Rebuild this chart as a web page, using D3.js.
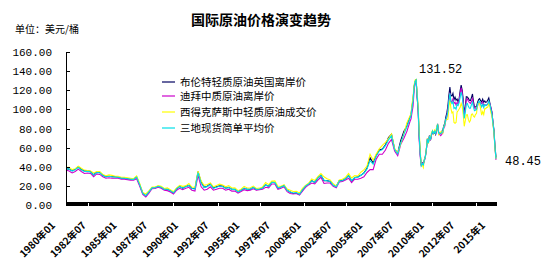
<!DOCTYPE html>
<html>
<head>
<meta charset="utf-8">
<script src="https://d3js.org/d3.v7.min.js"></script>
<style>
  body { margin: 0; background: #fff; }
  svg { display: block; }
  text { font-family: "Noto Sans CJK SC", "DejaVu Sans", sans-serif; }
</style>
</head>
<body>
<div id="chart"></div>
<script>
// quarterly up to 2007, monthly from 2008 on
var dates = [
  "1980-01","1980-04","1980-07","1980-10","1981-01","1981-04","1981-07","1981-10",
  "1982-01","1982-04","1982-07","1982-10","1983-01","1983-04","1983-07","1983-10",
  "1984-01","1984-04","1984-07","1984-10","1985-01","1985-04","1985-07","1985-10",
  "1986-01","1986-04","1986-07","1986-10","1987-01","1987-04","1987-07","1987-10",
  "1988-01","1988-04","1988-07","1988-10","1989-01","1989-04","1989-07","1989-10",
  "1990-01","1990-04","1990-07","1990-10","1991-01","1991-04","1991-07","1991-10",
  "1992-01","1992-04","1992-07","1992-10","1993-01","1993-04","1993-07","1993-10",
  "1994-01","1994-04","1994-07","1994-10","1995-01","1995-04","1995-07","1995-10",
  "1996-01","1996-04","1996-07","1996-10","1997-01","1997-04","1997-07","1997-10",
  "1998-01","1998-04","1998-07","1998-10","1999-01","1999-04","1999-07","1999-10",
  "2000-01","2000-04","2000-07","2000-10","2001-01","2001-04","2001-07","2001-10",
  "2002-01","2002-04","2002-07","2002-10","2003-01","2003-04","2003-07","2003-10",
  "2004-01","2004-04","2004-07","2004-10","2005-01","2005-04","2005-07","2005-10",
  "2006-01","2006-04","2006-07","2006-10","2007-01","2007-04","2007-07","2007-10",
  "2008-01","2008-02","2008-03","2008-04","2008-05","2008-06","2008-07","2008-08","2008-09","2008-10","2008-11","2008-12",
  "2009-01","2009-02","2009-03","2009-04","2009-05","2009-06","2009-07","2009-08","2009-09","2009-10","2009-11","2009-12",
  "2010-01","2010-02","2010-03","2010-04","2010-05","2010-06","2010-07","2010-08","2010-09","2010-10","2010-11","2010-12",
  "2011-01","2011-02","2011-03","2011-04","2011-05","2011-06","2011-07","2011-08","2011-09","2011-10","2011-11","2011-12",
  "2012-01","2012-02","2012-03","2012-04","2012-05","2012-06","2012-07","2012-08","2012-09","2012-10","2012-11","2012-12",
  "2013-01","2013-02","2013-03","2013-04","2013-05","2013-06","2013-07","2013-08","2013-09","2013-10","2013-11","2013-12",
  "2014-01","2014-02","2014-03","2014-04","2014-05","2014-06","2014-07","2014-08","2014-09","2014-10","2014-11","2014-12",
  "2015-01"
];

var brent = [
  38.0,37.5,36.0,37.5,40.0,37.0,35.5,36.0, 35.0,31.5,34.5,34.0,31.0,29.5,30.0,29.5,
  29.5,29.0,28.0,28.0,27.5,27.0,27.0,29.5, 21.0,12.5,9.5,14.0,18.0,18.2,19.5,18.5,
  16.8,16.5,15.0,12.5,17.0,19.5,17.5,19.5, 20.5,17.5,17.0,35.0,24.0,18.5,19.5,22.5,
  18.0,19.0,20.0,19.8,17.5,18.5,16.5,16.5, 14.0,15.5,17.5,16.5,16.5,18.5,16.0,16.5,
  18.0,21.0,19.5,24.0,23.5,17.5,19.0,20.5, 15.5,13.5,12.0,12.5,11.0,15.5,20.0,22.0,
  25.5,23.5,28.5,31.0,25.5,25.5,24.5,20.5, 19.5,25.5,25.5,27.5,31.0,25.0,28.5,29.5,
  31.0,33.5,38.5,49.5,44.0,52.0,57.5,58.5, 63.0,70.5,74.0,58.5,54.5,67.5,77.0,82.5,
  92.2,94.8,103.3,110.2,123.9,129.0,131.52,113.0,98.5,72.0,53.0,41.5,
  44.0,43.2,46.8,50.8,57.9,68.6,64.9,72.5,67.7,73.2,77.0,74.7,
  76.2,73.8,78.8,84.8,75.9,75.0,74.7,77.0,78.0,82.8,85.5,91.8,
  96.3,103.6,114.4,123.2,114.5,113.9,116.7,110.1,112.8,109.6,110.8,107.9,
  111.2,119.7,125.4,119.8,110.3,95.2,102.6,113.2,112.9,111.5,109.5,109.2,
  112.3,116.1,108.5,102.3,102.6,102.9,107.4,110.3,111.2,109.1,107.8,110.6,
  107.4,108.8,107.4,107.8,109.7,111.9,106.9,101.9,97.3,87.3,78.4,62.3,
  49.8
];

var dubai = [
  36.5,35.5,33.5,35.0,37.5,35.0,33.0,33.5, 33.0,29.5,32.5,32.0,29.5,28.0,28.5,28.0,
  28.0,28.0,27.0,27.0,26.5,26.0,26.0,27.5, 19.5,11.0,8.5,12.5,17.0,17.2,18.5,17.5,
  15.5,15.0,13.5,11.5,15.5,17.5,16.0,17.5, 18.5,15.5,14.5,31.0,19.0,15.5,16.5,19.0,
  15.5,16.5,17.5,17.5,15.5,16.5,14.5,14.5, 12.5,14.0,16.0,15.0,15.5,17.0,15.5,16.0,
  16.5,18.5,18.0,22.0,22.0,16.5,17.5,19.0, 14.0,12.0,11.5,12.0,10.5,14.5,18.5,21.0,
  23.0,22.0,26.0,29.0,22.5,23.0,23.0,19.5, 18.0,24.0,24.5,26.0,28.0,23.5,27.0,27.0,
  28.0,29.5,34.0,37.0,37.0,48.0,53.0,53.0, 57.5,64.5,68.5,56.5,51.5,63.5,69.5,77.0,
  87.3,90.0,96.7,103.4,119.3,127.8,129.5,113.5,96.5,67.5,50.0,40.5,
  43.9,43.1,45.6,50.1,57.3,69.4,65.1,71.5,67.8,73.2,76.9,75.4,
  76.7,74.2,77.3,83.6,76.0,73.7,72.6,73.9,75.3,80.3,82.6,88.7,
  92.2,100.4,108.8,117.4,108.1,107.8,110.9,106.3,107.4,104.5,107.2,105.5,
  109.8,116.2,122.4,117.3,107.6,94.4,99.1,109.5,111.0,108.5,107.3,106.3,
  107.9,111.1,105.6,101.6,100.4,100.3,103.5,107.3,108.0,106.7,106.0,107.9,
  104.0,105.1,104.2,104.6,105.6,108.0,106.0,101.8,96.5,86.8,76.4,60.2,
  47.2
];

var wti = [
  39.5,39.5,37.0,38.0,40.5,38.5,36.5,36.0, 35.5,33.5,35.0,35.0,32.0,30.5,31.5,31.0,
  30.0,30.0,29.0,29.0,28.5,28.0,27.5,30.5, 22.5,13.0,11.5,14.8,18.7,18.7,20.4,19.5,
  17.2,17.9,16.0,14.0,18.0,20.5,19.5,20.0, 22.5,18.5,18.5,35.5,25.0,20.5,21.5,23.0,
  19.0,20.3,21.8,21.0,19.0,20.3,17.8,18.0, 15.0,16.5,19.5,17.8,18.0,19.8,17.3,17.6,
  18.9,23.5,21.3,25.0,25.2,19.7,19.6,21.3, 16.7,15.4,14.1,14.4,12.5,17.3,20.5,22.7,
  27.2,25.7,29.7,33.0,29.5,27.5,26.3,22.2, 19.7,26.2,26.9,28.8,33.0,28.3,30.7,30.3,
  34.3,36.7,40.7,53.1,46.8,53.2,58.7,62.3, 65.5,69.4,74.4,58.9,54.6,63.9,74.2,86.2,
  93.0,95.4,105.5,112.6,125.4,130.5,131.2,116.7,104.1,76.6,57.3,41.1,
  41.7,39.1,48.0,49.8,59.2,69.7,64.1,71.1,69.4,75.7,78.0,74.5,
  78.3,76.4,81.2,84.3,73.7,75.3,76.3,76.6,75.2,81.9,84.1,89.0,
  89.4,89.6,102.9,110.0,101.3,96.3,97.3,86.3,85.5,86.3,97.2,98.6,
  100.3,102.2,106.2,103.3,94.7,82.3,87.9,94.1,94.5,89.5,86.7,88.2,
  94.8,95.3,92.9,92.0,94.5,95.8,104.6,106.6,106.3,100.5,93.9,97.6,
  94.6,100.8,100.8,102.1,102.2,105.8,103.6,96.5,93.2,84.4,75.8,59.3,
  48.3
];

var average = [
  38.0,37.5,35.5,36.8,39.3,36.8,35.0,35.2, 34.5,31.5,34.0,33.7,30.8,29.3,30.0,29.5,
  29.2,29.0,28.0,28.0,27.5,27.0,26.8,29.2, 21.0,12.2,9.8,13.8,17.9,18.0,19.5,18.5,
  16.5,16.5,14.8,12.7,16.8,19.2,17.7,19.0, 20.5,17.2,16.7,33.8,22.7,18.2,19.2,21.5,
  17.5,18.6,19.8,19.4,17.3,18.4,16.3,16.3, 13.8,15.3,17.7,16.4,16.7,18.4,16.3,16.7,
  17.8,21.0,19.6,23.7,23.6,17.9,18.7,20.3, 15.4,13.6,12.5,13.0,11.3,15.8,19.7,21.9,
  25.2,23.7,28.1,31.0,25.8,25.3,24.6,20.7, 19.1,25.2,25.6,27.4,30.7,25.6,28.7,28.9,
  31.1,33.2,37.7,46.5,42.6,51.1,56.4,57.9, 62.0,68.1,72.3,58.0,53.5,65.0,73.6,81.9,
  90.8,93.4,101.8,108.7,122.9,129.1,130.7,114.4,99.7,72.0,53.4,41.0,
  43.2,41.8,46.8,50.2,58.1,69.2,64.7,71.7,68.3,74.0,77.3,74.9,
  77.1,74.8,79.1,84.2,75.2,74.7,74.5,75.8,76.2,81.7,84.1,89.8,
  92.6,97.9,108.7,116.9,108.0,106.0,108.3,100.9,101.9,100.1,105.1,104.0,
  107.1,112.7,118.0,113.5,104.2,90.6,96.5,105.6,106.1,103.2,101.2,101.2,
  105.0,107.5,102.3,98.6,99.2,99.7,105.2,108.1,108.5,105.4,102.6,105.4,
  102.0,104.9,104.1,104.8,105.8,108.6,105.5,100.1,95.7,86.2,76.9,60.6,
  48.45
];

var seriesNames = ["布伦特轻质原油英国离岸价", "迪拜中质原油离岸价", "西得克萨斯中轻质原油成交价", "三地现货简单平均价"];
var seriesColors = ["#000060", "#cc00cc", "#ffff00", "#00e0e8"];

var yTicks = [0, 20, 40, 60, 80, 100, 120, 140, 160];
var xTickDates = ["1980-01","1982-07","1985-01","1987-07","1990-01","1992-07","1995-01",
                  "1997-07","2000-01","2002-07","2005-01","2007-07","2010-01","2012-07","2015-01"];
var xTickLabels = ["1980年01","1982年07","1985年01","1987年07","1990年01","1992年07","1995年01",
                   "1997年07","2000年01","2002年07","2005年01","2007年07","2010年01","2012年07","2015年1"];

var width = 553, height = 271;
var parse = d3.timeParse("%Y-%m");
var allSeries = [brent, dubai, wti, average];

var svg = d3.select("#chart").append("svg")
    .attr("width", width)
    .attr("height", height);

// scales
var xScale = d3.scaleTime()
    .domain([parse("1980-01"), parse("2015-01")])
    .range([66, 496]);
var yScale = d3.scaleLinear().domain([0, 160]).range([205, 52]);

// title + unit
svg.append("text")
    .attr("x", 261).attr("y", 25)
    .attr("text-anchor", "middle")
    .style("font-size", "14px").style("font-weight", "bold")
    .text("国际原油价格演变趋势");
svg.append("text")
    .attr("x", 15).attr("y", 33)
    .style("font-size", "10px")
    .text("单位：美元/桶");

// the lines
var line = d3.line()
    .x((d, i) => xScale(parse(dates[i])))
    .y(d => yScale(d));

allSeries.forEach(function(s, k) {
    svg.append("path")
        .attr("d", line(s))
        .attr("fill", "none")
        .attr("stroke", seriesColors[k])
        .attr("stroke-width", 1.1);
});

// Y axis, ticks pointing inwards
var yAxis = svg.append("g")
    .attr("transform", "translate(66,0)")
    .call(d3.axisLeft(yScale).tickValues(yTicks).tickSize(-4).tickSizeOuter(0)
          .tickPadding(14).tickFormat(d3.format(".2f")));
yAxis.selectAll("path, line").attr("stroke", "#000").attr("shape-rendering", "crispEdges");
yAxis.selectAll("text")
    .style("font-family", "'Liberation Mono', 'DejaVu Sans Mono', monospace")
    .style("font-size", "11px").attr("fill", "#000");

// X axis: one tick per month, which gives the black band
var xAxis = svg.append("g")
    .attr("transform", "translate(0,202)")
    .call(d3.axisBottom(xScale)
          .tickValues(d3.timeMonth.range(parse("1980-01"), parse("2015-02")))
          .tickSize(4).tickSizeOuter(0).tickFormat(""));
xAxis.selectAll("path, line").attr("stroke", "#000").attr("shape-rendering", "crispEdges");

// rotated date labels
svg.selectAll(".xlab")
    .data(xTickDates)
    .enter().append("text")
    .attr("class", "xlab")
    .attr("transform", (d) => "translate(" + (xScale(parse(d)) - 10) + ",226) rotate(-45)")
    .attr("text-anchor", "end")
    .style("font-size", "10px").style("font-weight", "bold")
    .text((d, i) => xTickLabels[i]);

// legend
var legendY = [82, 96, 112, 128];
seriesNames.forEach(function(name, k) {
    svg.append("line")
        .attr("x1", 162).attr("x2", 175)
        .attr("y1", legendY[k]).attr("y2", legendY[k])
        .attr("stroke", seriesColors[k]).attr("stroke-width", 1.2);
    svg.append("text")
        .attr("x", 180).attr("y", legendY[k] + 4)
        .style("font-size", "10.5px")
        .text(name);
});

// peak and last value labels
var maxVal = d3.max(allSeries, s => d3.max(s));
var maxIdx = brent.indexOf(maxVal);
svg.append("text")
    .attr("x", xScale(parse(dates[maxIdx])) + 3)
    .attr("y", yScale(maxVal) - 6)
    .style("font-family", "'Liberation Mono', 'DejaVu Sans Mono', monospace")
    .style("font-size", "12px")
    .text(d3.format(".2f")(maxVal));

var lastIdx = dates.length - 1;
svg.append("text")
    .attr("x", xScale(parse(dates[lastIdx])) + 9)
    .attr("y", yScale(average[lastIdx]) + 6)
    .style("font-family", "'Liberation Mono', 'DejaVu Sans Mono', monospace")
    .style("font-size", "12px")
    .text(d3.format(".2f")(average[lastIdx]));
</script>
</body>
</html>
